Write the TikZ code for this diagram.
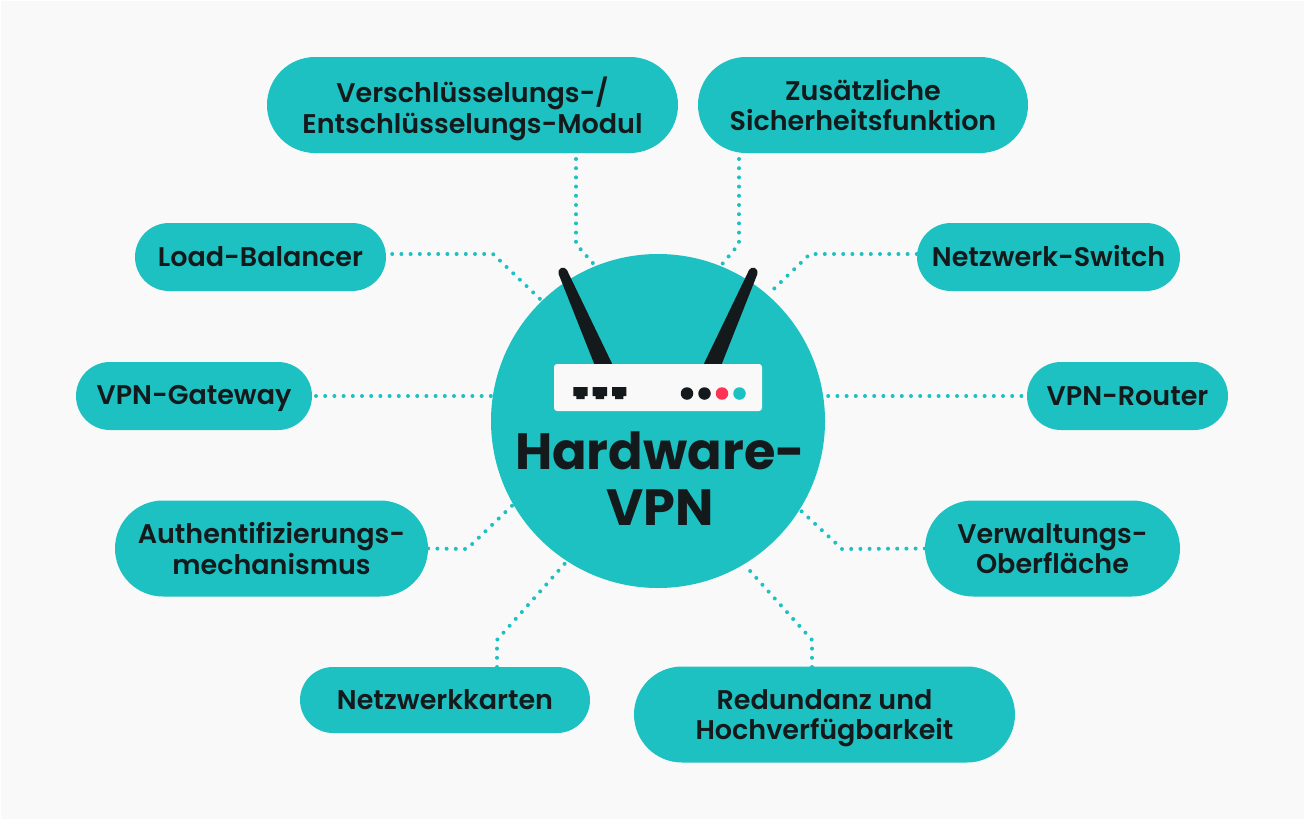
\documentclass[tikz,border=0pt]{standalone}
\usepackage{fontspec}
\setmainfont{Poppins}[UprightFont=* SemiBold,BoldFont=* Bold]
\usetikzlibrary{shapes.misc}
\definecolor{tealfill}{HTML}{1EC1C1}
\definecolor{darkink}{HTML}{14191C}
\definecolor{paper}{HTML}{F9F9F9}
\definecolor{ledred}{HTML}{FF3355}
\newcommand{\pillstrut}{\rule[-5pt]{0pt}{29pt}}
\tikzset{
  pill/.style={rounded rectangle,fill=tealfill,text=darkink,inner sep=0pt,align=center,
    font=\fontsize{27}{30.5}\selectfont,
    execute at begin node=\pillstrut,execute at end node=\pillstrut},
  twoline/.style={pill,minimum height=96pt,text depth=0pt},
  link/.style={tealfill,line width=4pt,line cap=round,dash pattern=on 0pt off 9.2pt},
  led/.style={circle,inner sep=0pt,minimum size=12.5pt}
}
\begin{document}
\begin{tikzpicture}[x=1pt,y=-1pt]
\useasboundingbox (0,0) rectangle (1304,819);
\fill[white] (0,0) rectangle (1304,819);
\fill[paper] (1,1) rectangle (1304,819);
\node[circle,fill=tealfill,inner sep=0pt,minimum size=334pt] (hub) at (658,421) {};

\node[twoline,minimum width=411pt] (crypt) at (472.5,105) {Verschlüsselungs-/\\Entschlüsselungs-Modul};
\node[twoline,minimum width=330pt] (extra) at (863,105) {Zusätzliche\\Sicherheitsfunktion};
\node[pill,minimum width=251pt,minimum height=68pt] (balancer) at (260.5,257) {Load-Balancer};
\node[pill,minimum width=263pt,minimum height=68pt] (switch) at (1048.5,257) {Netzwerk-Switch};
\node[pill,minimum width=236pt,minimum height=68pt] (gateway) at (194,396) {VPN-Gateway};
\node[pill,minimum width=201pt,minimum height=68pt] (router) at (1127.5,396) {VPN-Router};
\node[twoline,minimum width=313pt] (auth) at (271.5,548.5) {Authentifizierungs-\\mechanismus};
\node[twoline,minimum width=255pt] (admin) at (1052.5,548.5) {Verwaltungs-\\Oberfläche};
\node[pill,minimum width=290pt,minimum height=66pt] (cards) at (445,700) {Netzwerkkarten};
\node[twoline,minimum width=381pt] (redundancy) at (824.5,714.5) {Redundanz und\\Hochverfügbarkeit};

\draw[link,dash phase=3.2pt] (576,153) -- (576,244) -- (hub.112);
\draw[link,dash phase=3.2pt] (739,153) -- (739,244) -- (hub.68);
\draw[link,dash phase=3.2pt] (balancer.east |- 0,254) -- (493,254) -- (hub.134);
\draw[link] (switch.west |- 0,254) -- (810,254) -- (hub.49);
\draw[link] (hub.west |- gateway) -- (gateway.east);
\draw[link,dash phase=6.2pt] (hub.east |- router) -- (router.west);
\draw[link] (auth.east) -- (467,549) -- (hub.210);
\draw[link] (admin.west) -- (842,549) -- (hub.-32);
\draw[link] (497,667) -- (497,640) -- (hub.237);
\draw[link] (812,667) -- (812,640) -- (hub.-59);

% antennas
\fill[darkink,rounded corners=4.5pt] (557,270) -- (565,266) -- (618,376) -- (599,376) -- cycle;
\fill[darkink,rounded corners=4.5pt] (759,270) -- (751,266) -- (698,376) -- (717,376) -- cycle;

% router
\fill[paper,rounded corners=3pt] (554,364) rectangle (762,411);
\foreach \px in {573.3,592.7,612} {
  \fill[darkink] (\px,387) -- ++(14.4,0) -- ++(0,9) -- ++(-3,0) -- ++(0,3) -- ++(-8.4,0) -- ++(0,-3) -- ++(-3,0) -- cycle;
}
\node[led,fill=darkink] (ledone) at (687,393.5) {};
\node[led,fill=darkink] (ledtwo) at (704.5,393.5) {};
\node[led,fill=ledred] (ledthree) at (722,393.5) {};
\node[led,fill=tealfill] (ledfour) at (739.5,393.5) {};

\node[text=darkink,align=center,font=\fontsize{51}{56}\selectfont\bfseries] (title) at (660,479) {Hardware-\\VPN};
\end{tikzpicture}
\end{document}
